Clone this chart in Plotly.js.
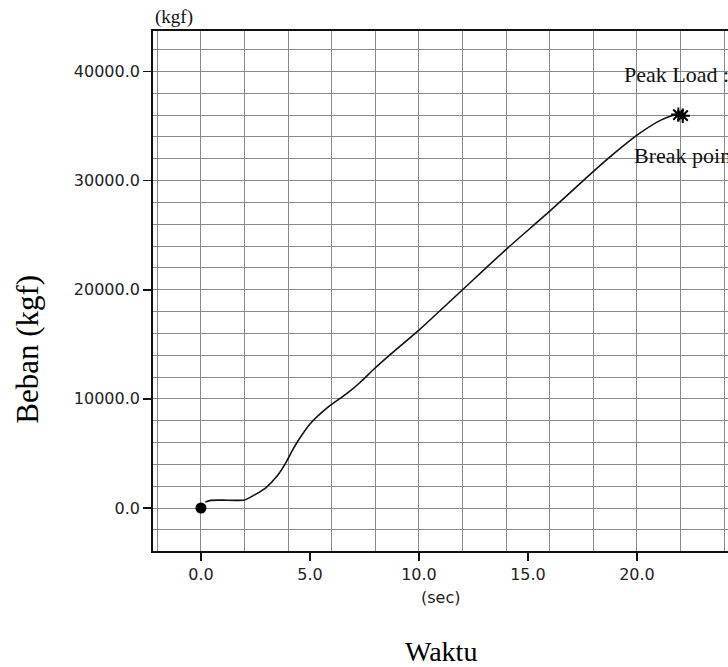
<!DOCTYPE html>
<html>
<head>
<meta charset="utf-8">
<script src="https://cdn.plot.ly/plotly-3.0.1.min.js"></script>
<style>
  html, body { margin: 0; padding: 0; background: #fff; overflow: hidden; }
  #chart { width: 800px; height: 667px; }
</style>
</head>
<body>
<div id="chart"></div>
<script>
// Load–time record of the tensile test
const timeSec = [0.2, 0.45, 1.0, 2.0, 2.5, 3.0, 3.5, 3.85, 4.2, 4.5, 5.0, 5.8, 6.7, 7.3, 8.0, 9.0, 10.0, 12.0, 14.0, 16.0, 17.7, 18.9, 20.1, 21.05, 21.6, 21.9];
const loadKgf = [550, 700, 720, 740, 1250, 1900, 2950, 4000, 5300, 6300, 7700, 9200, 10500, 11500, 12850, 14600, 16300, 20000, 23700, 27200, 30300, 32400, 34300, 35500, 35950, 36050];

// Start point, peak load and break point
const startTime = [0];
const startLoad = [0];
const peakTime = [21.9];
const peakLoad = [36050];
const breakTime = [22.1];
const breakLoad = [35950];

// Axis ticks
const xTickVals = [0, 5, 10, 15, 20];
const xTickText = ['0.0', '5.0', '10.0', '15.0', '20.0'];
const yTickVals = [0, 10000, 20000, 30000, 40000];
const yTickText = ['0.0', '10000.0', '20000.0', '30000.0', '40000.0'];

const xRange = [-2.2, 27.48];
const yRange = [-3940, 43710];

const tickFont = { family: 'DejaVu Sans', size: 16, color: '#222' };
const serif = 'Liberation Serif, Times New Roman, serif';

const traces = [
  {
    x: timeSec, y: loadKgf, type: 'scatter', mode: 'lines',
    line: { color: '#111', width: 1.6, shape: 'spline', smoothing: 0.6 },
    hoverinfo: 'skip'
  },
  {
    x: startTime, y: startLoad, type: 'scatter', mode: 'markers',
    marker: { color: '#000', size: 11, symbol: 'circle' }
  },
  {
    x: peakTime, y: peakLoad, type: 'scatter', mode: 'markers',
    xaxis: 'x2', yaxis: 'y2',
    marker: { color: '#000', size: 12, symbol: 'asterisk-open', line: { color: '#000', width: 2 } }
  },
  {
    x: breakTime, y: breakLoad, type: 'scatter', mode: 'markers',
    xaxis: 'x2', yaxis: 'y2',
    marker: { color: '#000', size: 12, symbol: 'asterisk-open', line: { color: '#000', width: 2 } }
  }
];

const layout = {
  width: 800, height: 667,
  margin: { l: 153, r: 0, t: 31, b: 116 },
  paper_bgcolor: '#fff', plot_bgcolor: '#fff',
  showlegend: false,
  xaxis: {
    range: xRange, showgrid: false, zeroline: false,
    tickmode: 'array', tickvals: xTickVals, ticktext: xTickText,
    ticks: 'outside', ticklen: 8, tickwidth: 1.5, tickcolor: '#111',
    tickfont: tickFont,
    showline: true, linecolor: '#111', linewidth: 1.8, mirror: true
  },
  yaxis: {
    range: yRange, showgrid: false, zeroline: false,
    tickmode: 'array', tickvals: yTickVals, ticktext: yTickText,
    ticks: 'outside', ticklen: 8, tickwidth: 1.5, tickcolor: '#111',
    tickfont: tickFont,
    showline: true, linecolor: '#111', linewidth: 1.8, mirror: true
  },
  // Fine grid: every 2 s and every 2000 kgf
  xaxis2: {
    overlaying: 'x', anchor: 'y', range: xRange,
    tickmode: 'linear', tick0: 0, dtick: 2,
    showgrid: true, gridcolor: '#8a8a8a', gridwidth: 1,
    showticklabels: false, ticks: '', zeroline: false, showline: false
  },
  yaxis2: {
    overlaying: 'y', anchor: 'x', range: yRange,
    tickmode: 'linear', tick0: 0, dtick: 2000,
    showgrid: true, gridcolor: '#8a8a8a', gridwidth: 1,
    showticklabels: false, ticks: '', zeroline: false, showline: false
  },
  annotations: [
    {
      text: '(kgf)', xref: 'paper', yref: 'paper', x: 0, y: 1,
      xanchor: 'left', yanchor: 'bottom', yshift: 1, showarrow: false,
      font: { family: serif, size: 19, color: '#111' }
    },
    {
      text: '(sec)', xref: 'x', yref: 'paper', x: 11, y: 0,
      xanchor: 'center', yanchor: 'top', yshift: -35, showarrow: false,
      font: tickFont
    },
    {
      text: 'Waktu', xref: 'x', yref: 'paper', x: 11, y: 0,
      xanchor: 'center', yanchor: 'middle', yshift: -100, showarrow: false,
      font: { family: serif, size: 28, color: '#000' }
    },
    {
      text: 'Beban (kgf)', xref: 'paper', yref: 'paper', x: -0.194, y: 0.388,
      xanchor: 'center', yanchor: 'middle', textangle: -90, showarrow: false,
      font: { family: serif, size: 31, color: '#000' }
    },
    {
      text: 'Peak Load :', xref: 'x', yref: 'y', x: 19.31, y: 39680,
      xanchor: 'left', yanchor: 'middle', showarrow: false,
      font: { family: serif, size: 22, color: '#111' }
    },
    {
      text: 'Break point', xref: 'x', yref: 'y', x: 19.77, y: 32260,
      xanchor: 'left', yanchor: 'middle', showarrow: false,
      font: { family: serif, size: 22, color: '#111' }
    }
  ]
};

Plotly.newPlot('chart', traces, layout, { staticPlot: true, displayModeBar: false });
</script>
</body>
</html>
